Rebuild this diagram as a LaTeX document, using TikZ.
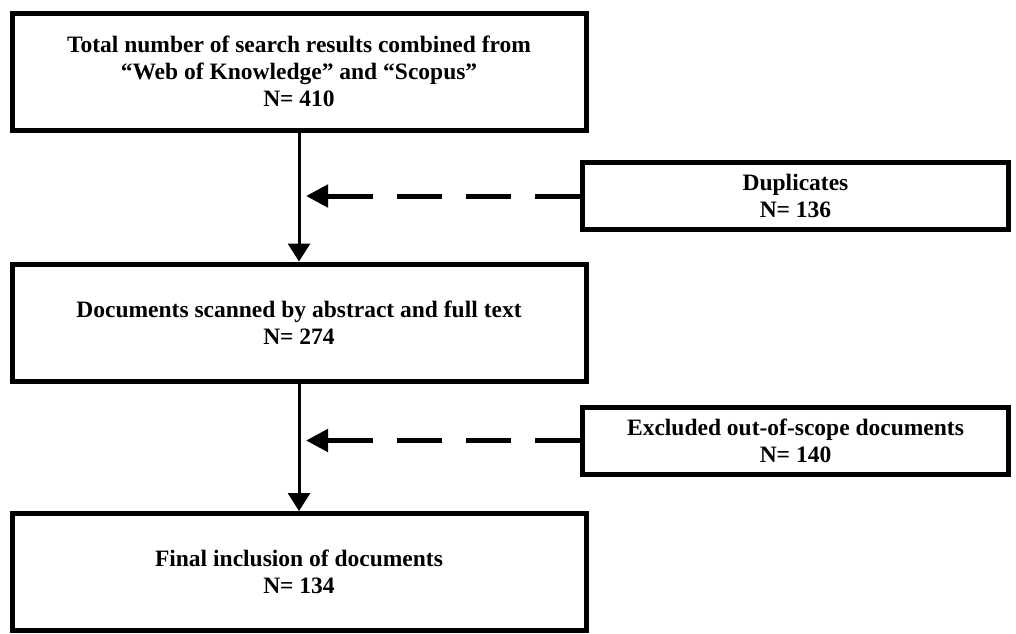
\documentclass[tikz,border=0pt]{standalone}
\usepackage{fontspec}
\setmainfont{Liberation Serif}
\usetikzlibrary{positioning,arrows.meta}
\tikzset{
  every picture/.style={line width=3pt},
  stage/.style={draw,rectangle,line width=5pt,minimum width=574pt,minimum height=117pt,align=center,font=\fontsize{23.5}{27}\selectfont\bfseries},
  side/.style={draw,rectangle,line width=5pt,minimum width=426pt,minimum height=67pt,align=center,font=\fontsize{23.5}{27}\selectfont\bfseries},
  flow/.style={-{Triangle[length=18pt,width=22pt]},line width=3pt},
  drop/.style={-{Triangle[length=22pt,width=22pt]},line width=5pt,dash pattern=on 45pt off 24pt},
}

\begin{document}
\begin{tikzpicture}[x=1pt,y=-1pt]
\useasboundingbox (0,0) rectangle (1016,633);
% main stages
\node[stage] (total) at (299,71.5) {Total number of search results combined from\\“Web of Knowledge” and “Scopus”\\N= 410};
\node[stage] (scan) at (299,322.5) {Documents scanned by abstract and full text\\N= 274};
\node[stage] (final) at (299,572) {Final inclusion of documents\\N= 134};
% removed records
\node[side] (dup) at (795.5,196) {Duplicates\\N= 136};
\node[side] (excl) at (795.5,440.5) {Excluded out-of-scope documents\\N= 140};
% flow down
\draw[flow] (total.south) -- (scan.north);
\draw[flow] (scan.south) -- (final.north);
% side exits
\coordinate (j1) at (total.south |- dup.west);
\coordinate (j2) at (scan.south |- excl.west);
\draw[drop] (dup.west) -- ([xshift=7pt]j1);
\draw[drop] (excl.west) -- ([xshift=7pt]j2);
\end{tikzpicture}
\end{document}
